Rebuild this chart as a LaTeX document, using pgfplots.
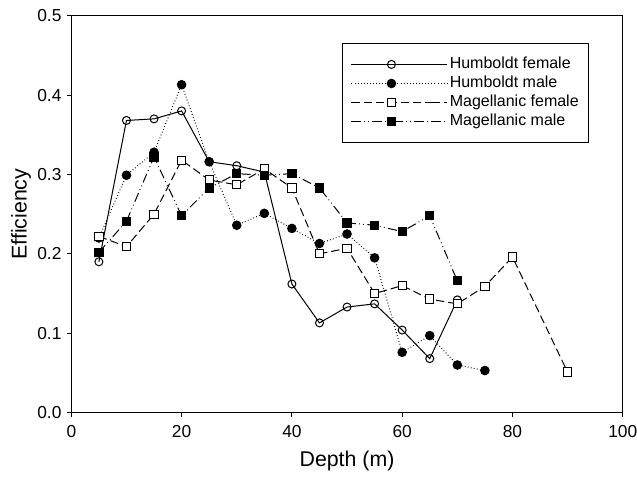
\documentclass[border=0pt]{standalone}
\usepackage{pgfplots}
\pgfplotsset{compat=1.18}
\usepackage{fontspec}
\setmainfont{Liberation Sans}
\begin{document}
\begin{tikzpicture}
\path[use as bounding box] (-53.5pt,-48.2pt) rectangle (424.3pt,309.5pt);
\begin{axis}[
  at={(0,0)}, anchor=south west,
  scale only axis,
  width=413.6pt, height=297.75pt,
  xmin=0, xmax=100, ymin=0, ymax=0.5,
  xtick={0,20,40,60,80,100},
  ytick={0,0.1,0.2,0.3,0.4,0.5},
  yticklabel style={/pgf/number format/fixed, /pgf/number format/fixed zerofill, /pgf/number format/precision=1, xshift=-0.5pt},
  /pgf/number format/assume math mode=true,
  tick align=outside, tick pos=left,
  major tick length=3.4pt,
  axis line style={line width=0.75pt},
  every tick/.style={line width=0.75pt, black},
  tick label style={font=\fontsize{13}{15.6}\selectfont},
  xticklabel style={yshift=-2.5pt},
  xlabel={Depth (m)}, ylabel={Efficiency},
  every axis x label/.style={at={(axis description cs:0.5,-0.123)}, anchor=center, font=\fontsize{16}{19.2}\selectfont},
  every axis y label/.style={at={(axis description cs:-0.091,0.5)}, anchor=center, rotate=90, font=\fontsize{16}{19.2}\selectfont},
  legend cell align=left,
  legend style={at={(axis description cs:0.939,0.931)}, anchor=north east,
    draw=black, line width=0.75pt, inner xsep=6pt, inner ysep=8.5pt,
    row sep=0pt, font=\fontsize{12}{14.4}\selectfont,
    nodes={inner sep=1.4pt, text height=9pt, text depth=2.5pt},
    /tikz/every even column/.append style={column sep=0pt}},
  legend image code/.code={
    \draw[mark repeat=2,mark phase=2,#1] plot coordinates {(0pt,0pt) (30pt,0pt) (60pt,0pt)};
    \path (60pt,0pt) -- (72pt,0pt);
  },
]
\addplot[black, line width=0.75pt, mark=o, mark size=3pt, mark options={solid, fill=white, line width=0.75pt}]
coordinates {(5,0.190) (10,0.368) (15,0.370) (20,0.380) (25,0.316) (30,0.311) (35,0.303) (40,0.162) (45,0.113) (50,0.133) (55,0.137) (60,0.104) (65,0.068) (70,0.142)};
\addlegendentry{Humboldt female}
\addplot[black, line width=0.75pt, dash pattern=on 0.6pt off 1.7pt, mark=*, mark size=3.2pt, mark options={solid, fill=black}]
coordinates {(5,0.220) (10,0.299) (15,0.328) (20,0.413) (25,0.316) (30,0.236) (35,0.251) (40,0.232) (45,0.213) (50,0.225) (55,0.195) (60,0.076) (65,0.097) (70,0.060) (75,0.053)};
\addlegendentry{Humboldt male}
\addplot[black, line width=0.75pt, dash pattern=on 6.2pt off 3pt, mark=square*, mark size=3.1pt, mark options={solid, fill=white, line width=0.75pt}]
coordinates {(5,0.222) (10,0.209) (15,0.250) (20,0.318) (25,0.293) (30,0.287) (35,0.307) (40,0.283) (45,0.200) (50,0.207) (55,0.150) (60,0.160) (65,0.143) (70,0.137) (75,0.159) (80,0.196) (90,0.051)};
\addlegendentry{Magellanic female}
\addplot[black, line width=0.75pt, dash pattern=on 7pt off 2.5pt on 0.6pt off 2.5pt on 0.6pt off 2.5pt, mark=square*, mark size=3.1pt, mark options={solid, fill=black}]
coordinates {(5,0.202) (10,0.241) (15,0.322) (20,0.248) (25,0.283) (30,0.301) (35,0.299) (40,0.301) (45,0.283) (50,0.239) (55,0.236) (60,0.228) (65,0.248) (70,0.166)};
\addlegendentry{Magellanic male}
\end{axis}
\end{tikzpicture}
\end{document}
